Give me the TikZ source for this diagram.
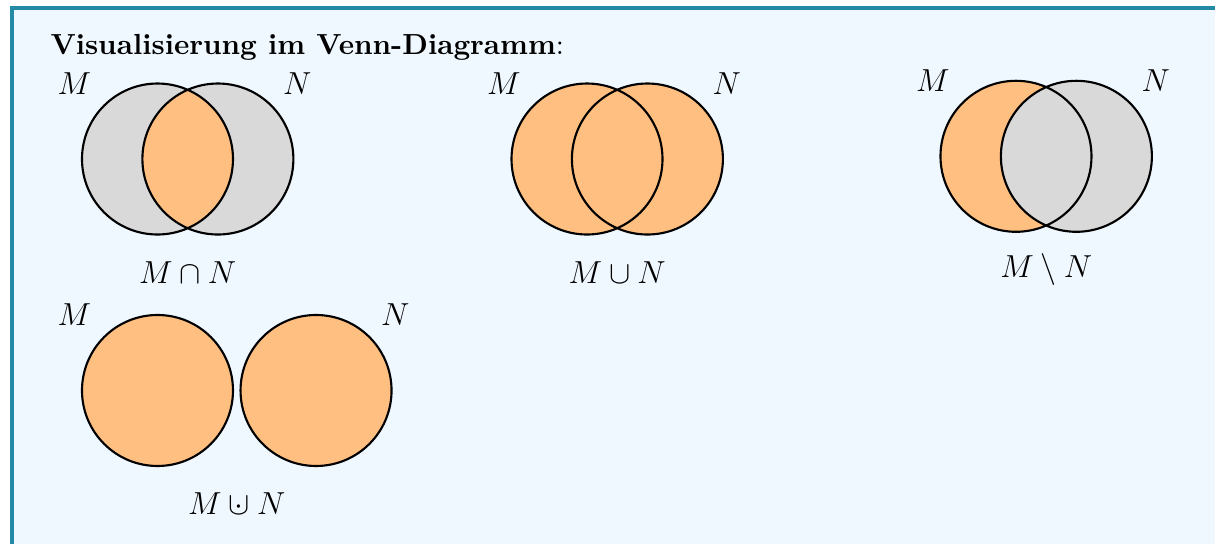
\documentclass[tikz,border=0pt]{standalone}
\usepackage{amsmath,amssymb}
\usepackage{tikz}
\usetikzlibrary{calc,positioning}
\usepackage{xcolor}
\definecolor{framecol}{RGB}{35,137,165}
\definecolor{backcol}{RGB}{240,248,255}
\tikzset{
  % set area, not in the result
  restset/.style={fill=gray!30},
  % set area, in the result
  hitset/.style={fill=orange!50},
  % circle outline
  setline/.style={draw=black, thick},
  % set name and operation label
  setlabel/.style={font=\fontsize{11.5}{14}\selectfont, inner sep=1pt},
  % heading
  boxtitle/.style={font=\fontsize{10.95}{13.6}\selectfont, anchor=base west, inner sep=0pt},
}
\newcommand{\dunion}{\mathbin{\ooalign{$\cup$\cr\hidewidth$\cdot$\hidewidth\cr}}}

\begin{document}
\begin{tikzpicture}

  \useasboundingbox (0,0) rectangle (16.093,-7.205);

  % ═══════ BOX ═══════
  \fill[framecol] (0.1325,-0.0795) rectangle (16.093,-7.205);
  \fill[backcol] (0.1854,-0.1325) rectangle (16.093,-7.205);
  \node[boxtitle] (title) at (0.662,-0.72) {\textbf{Visualisierung im Venn-Diagramm}:};

  % ═══════ SCHNITT ═══════
  \coordinate (a1) at (2.086,-2.106);
  \coordinate (a2) at ($(a1)+(0.8,0)$);
  \fill[restset] (a1) circle (1) (a2) circle (1);
  \begin{scope}
    \clip (a1) circle (1);
    \fill[hitset] (a2) circle (1);
  \end{scope}
  \draw[setline] (a1) circle (1) (a2) circle (1);
  \node[setlabel] (aM) at ($(a1)+(-1.1,1)$) {$M$};
  \node[setlabel] (aN) at ($(a2)+(1.05,1)$) {$N$};
  \node[setlabel] (aop) at ($(a1)!0.5!(a2)+(0,-1.5)$) {$M \cap N$};

  % ═══════ VEREINIGUNG ═══════
  \coordinate (b1) at (7.775,-2.106);
  \coordinate (b2) at ($(b1)+(0.8,0)$);
  \fill[hitset] (b1) circle (1) (b2) circle (1);
  \draw[setline] (b1) circle (1) (b2) circle (1);
  \node[setlabel] (bM) at ($(b1)+(-1.1,1)$) {$M$};
  \node[setlabel] (bN) at ($(b2)+(1.05,1)$) {$N$};
  \node[setlabel] (bop) at ($(b1)!0.5!(b2)+(0,-1.5)$) {$M \cup N$};

  % ═══════ DIFFERENZ ═══════
  \coordinate (c1) at (13.457,-2.07);
  \coordinate (c2) at ($(c1)+(0.8,0)$);
  \fill[hitset] (c1) circle (1);
  \fill[restset] (c2) circle (1);
  \draw[setline] (c1) circle (1) (c2) circle (1);
  \node[setlabel] (cM) at ($(c1)+(-1.1,1)$) {$M$};
  \node[setlabel] (cN) at ($(c2)+(1.05,1)$) {$N$};
  \node[setlabel] (cop) at ($(c1)!0.5!(c2)+(0,-1.5)$) {$M \setminus N$};

  % ═══════ DISJUNKTE VEREINIGUNG ═══════
  \coordinate (d1) at (2.086,-5.172);
  \coordinate (d2) at ($(d1)+(2.1,0)$);
  \fill[hitset] (d1) circle (1) (d2) circle (1);
  \draw[setline] (d1) circle (1) (d2) circle (1);
  \node[setlabel] (dM) at ($(d1)+(-1.1,1)$) {$M$};
  \node[setlabel] (dN) at ($(d2)+(1.05,1)$) {$N$};
  \node[setlabel] (dop) at ($(d1)!0.5!(d2)+(0,-1.5)$) {$M \dunion N$};

\end{tikzpicture}
\end{document}
